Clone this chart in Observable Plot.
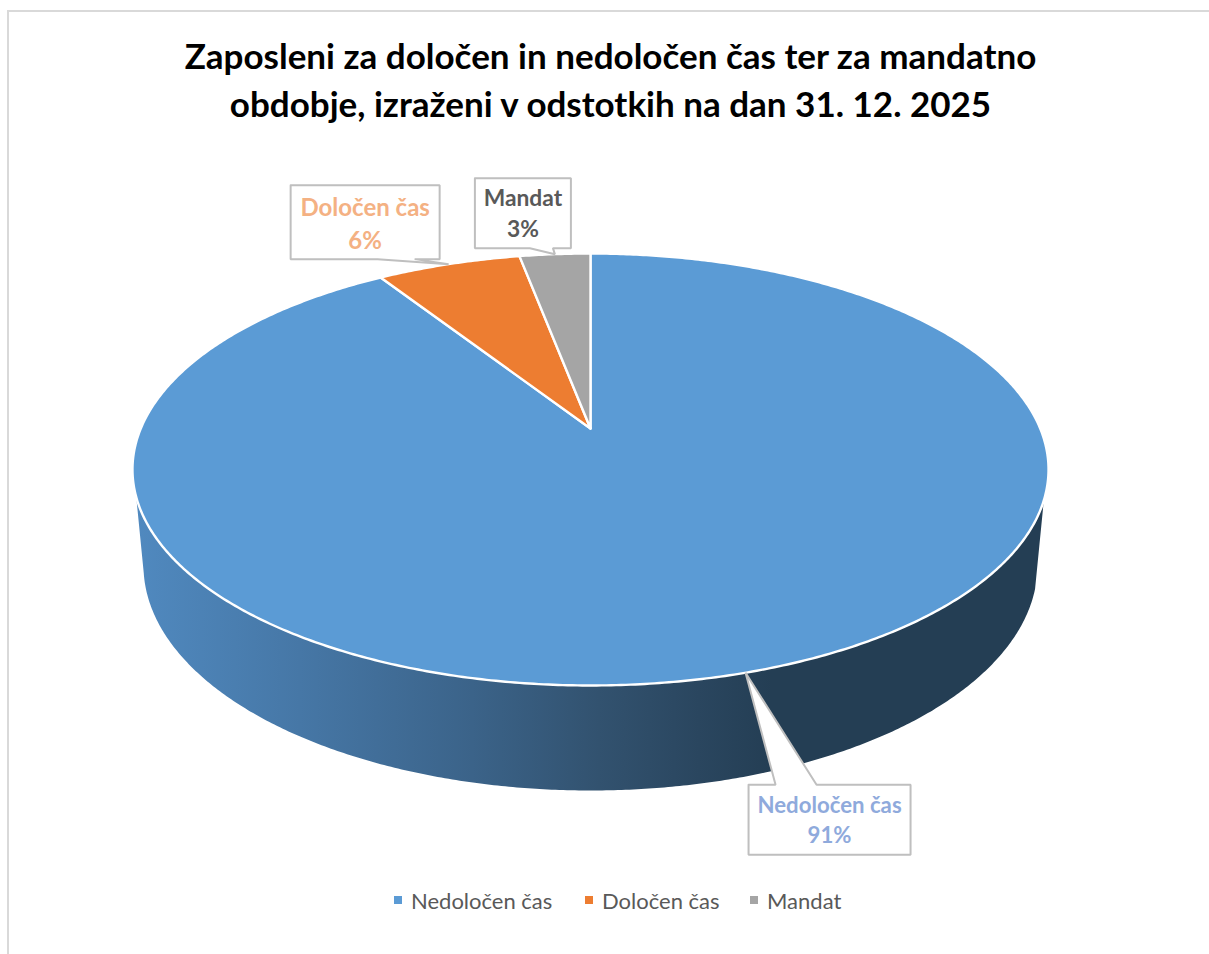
<!DOCTYPE html>
<html lang="sl">
<head>
<meta charset="utf-8">
<script src="https://cdn.jsdelivr.net/npm/d3@7"></script>
<script src="https://cdn.jsdelivr.net/npm/@observablehq/plot@0.6"></script>
<style>
  html, body { margin: 0; padding: 0; background: #fff; overflow: hidden; }
  #page { position: relative; width: 1209px; height: 954px; font-family: Lato, sans-serif; }
  #frame { position: absolute; left: 7px; top: 10px; right: -4px; bottom: -4px; border: 2px solid #d9d9d9; box-sizing: border-box; }
  #title { position: absolute; left: 0; width: 1221px; top: 31px; text-align: center; font-weight: 700; font-size: 35px; line-height: 48px; color: #000; white-space: nowrap; }
  #chart { position: absolute; left: 0; top: 130px; }
  #legend { position: absolute; left: 0; top: 885px; width: 1209px; height: 30px; font-size: 22px; color: #595959; }
  #legend .item { position: absolute; top: 0; display: flex; align-items: center; height: 30px; white-space: nowrap; }
  #legend .sw { width: 8px; height: 8px; margin-right: 9px; display: inline-block; }
  svg text { font-family: Lato, sans-serif; }
</style>
</head>
<body>
<div id="page">
  <div id="frame"></div>
  <div id="title"></div>
  <div id="chart"></div>
  <div id="legend"></div>
</div>
<script>
// ---- data ----
const titleLines = ["Zaposleni za določen in nedoločen čas ter za mandatno", "obdobje, izraženi v odstotkih na dan 31. 12. 2025"];
const categories = ["Nedoločen čas", "Določen čas", "Mandat"];
const shares = [90.9, 6.1, 3.0];
const sliceColors = ["#5b9bd5", "#ed7d31", "#a5a5a5"];
const labelColors = ["#8faadc", "#f4b183", "#595959"];
const labelSizes = [22.2, 24, 22.8];

// ---- perspective of the 3D pie ----
const top3d = {x0: 590, y0: 428, a: 449.7, b: 208.2, k: 0.1898};
const base3d = {cx: 590, cy: 565, rx: 447, ry: 225};
const W = 1209, svgTop = 130, svgBottom = 880;

const total = d3.sum(shares);
// angle measured clockwise from 12 o'clock
const project = (deg) => {
  const t = deg * Math.PI / 180, u = Math.sin(t), v = -Math.cos(t), d = 1 - top3d.k * v;
  return {x: top3d.x0 + top3d.a * u / d, y: top3d.y0 + top3d.b * v / d};
};
const arc = (from, to, step = 0.5) => {
  const n = Math.max(2, Math.ceil(Math.abs(to - from) / step));
  return d3.range(n + 1).map((i) => project(from + (to - from) * i / n));
};
let acc = 0;
const slices = categories.map((name, i) => {
  const a0 = acc / total * 360; acc += shares[i]; const a1 = acc / total * 360;
  const apex = {x: top3d.x0, y: top3d.y0};
  return {name, i, a0, a1, mid: (a0 + a1) / 2, pts: [apex, ...arc(a0, a1), apex]};
});

// Wall of the pie: front rim of the top face, closed along the lower rim.
const rimFront = arc(108.9, 251.9);
const lowerRim = d3.range(0, 345).map((i) => {
  const t = (-178 + i * 0.5) * Math.PI / 180;
  return {x: base3d.cx + base3d.rx * Math.cos(t), y: base3d.cy - base3d.ry * Math.sin(t)};
});
const wall = [...rimFront, ...lowerRim, rimFront[0]];

// Call-outs: box edges as offsets from the slice's leader tip
const callouts = [
  {i: 0, left: 3, right: 165, top: 112, bottom: 182, l1: 30, l2: 71, dy: -1.5},
  {i: 1, left: -158, right: -9, top: -79, bottom: -5, l1: -71, l2: -34, dy: 0},
  {i: 2, left: -80, right: 16, top: -76, bottom: -6, l1: -25, l2: -2, dy: -1.5}
].map((c) => {
  const tip = project(slices[c.i].mid);
  const X = (o) => tip.x + o, Y = (o) => tip.y + o;
  const leaderOnTop = c.top > 0;
  const yEdge = leaderOnTop ? Y(c.top) : Y(c.bottom);
  const outline = leaderOnTop
    ? [{x: X(c.left), y: Y(c.top)}, {x: X(c.l1), y: yEdge}, tip, {x: X(c.l2), y: yEdge}, {x: X(c.right), y: Y(c.top)}, {x: X(c.right), y: Y(c.bottom)}, {x: X(c.left), y: Y(c.bottom)}, {x: X(c.left), y: Y(c.top)}]
    : [{x: X(c.left), y: Y(c.top)}, {x: X(c.right), y: Y(c.top)}, {x: X(c.right), y: Y(c.bottom)}, {x: X(c.l2), y: yEdge}, tip, {x: X(c.l1), y: yEdge}, {x: X(c.left), y: Y(c.bottom)}, {x: X(c.left), y: Y(c.top)}];
  return {
    outline,
    cx: X((c.left + c.right) / 2), cy: Y((c.top + c.bottom) / 2) + c.dy,
    text: `${categories[c.i]}\n${Math.round(shares[c.i])}%`,
    color: labelColors[c.i],
    size: labelSizes[c.i]
  };
});

const defs = () => {
  const ns = "http://www.w3.org/2000/svg";
  const d = document.createElementNS(ns, "defs");
  const g = document.createElementNS(ns, "linearGradient");
  g.setAttribute("id", "wallShade");
  [[0, "#5089bf"], [0.18, "#4677a6"], [0.37, "#3b6389"], [0.51, "#32526f"], [0.62, "#2a465f"], [0.70, "#243e54"], [1, "#243e54"]].forEach(([o, c]) => {
    const s = document.createElementNS(ns, "stop");
    s.setAttribute("offset", o); s.setAttribute("stop-color", c);
    g.appendChild(s);
  });
  d.appendChild(g);
  return d;
};

const chart = Plot.plot({
  width: W, height: svgBottom - svgTop,
  margin: 0,
  x: {domain: [0, W], range: [0, W], axis: null},
  y: {domain: [svgTop, svgBottom], range: [0, svgBottom - svgTop], axis: null},
  style: {background: "transparent", overflow: "visible"},
  marks: [
    defs,
    Plot.line(wall, {x: "x", y: "y", fill: "url(#wallShade)", stroke: "none"}),
    ...slices.map((s) => Plot.line(s.pts, {x: "x", y: "y", fill: sliceColors[s.i], stroke: "#fff", strokeWidth: 2.4, strokeLinejoin: "round"})),
    ...callouts.map((c) => Plot.line(c.outline, {x: "x", y: "y", fill: "#fff", stroke: "#bfbfbf", strokeWidth: 2, strokeLinejoin: "miter"})),
    Plot.text(callouts, {x: "cx", y: "cy", text: "text", fill: "color", fontSize: (d) => d.size, fontWeight: 700, lineHeight: 1.36, textAnchor: "middle"})
  ]
});
document.getElementById("chart").appendChild(chart);

// ---- title and legend ----
document.getElementById("title").innerHTML = titleLines.map((t) => `<div>${t}</div>`).join("");
const legend = document.getElementById("legend");
const legendStarts = [394, 585, 750];
categories.forEach((name, i) => {
  const item = document.createElement("div");
  item.className = "item";
  item.style.left = legendStarts[i] + "px";
  item.innerHTML = `<span class="sw" style="background:${sliceColors[i]}"></span><span>${name}</span>`;
  legend.appendChild(item);
});
</script>
</body>
</html>
